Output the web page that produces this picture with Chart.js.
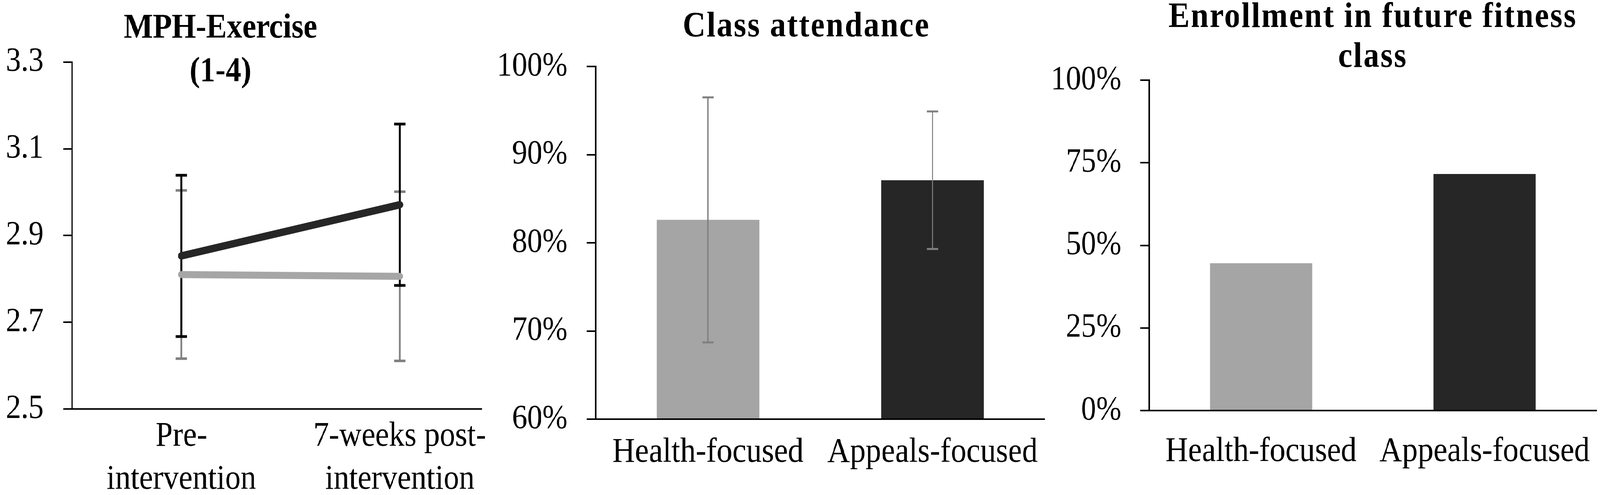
<!DOCTYPE html>
<html>
<head>
<meta charset="utf-8">
<script src="https://cdn.jsdelivr.net/npm/chart.js@4.4.1/dist/chart.umd.min.js"></script>
<style>
  html, body { margin: 0; padding: 0; background: #fff; overflow: hidden; }
  #stage { position: absolute; left: 0; top: 0; width: 4550px; height: 1266px; transform-origin: 0 0; overflow: hidden; }
  canvas { position: absolute; }
</style>
</head>
<body>
<div id="stage">
  <canvas id="mphChart"></canvas>
  <canvas id="attendChart"></canvas>
  <canvas id="enrollChart"></canvas>
</div>
<script>
// ====== Data ======
const groupLabels = ['Health-focused', 'Appeals-focused'];

// panel 1: MPH-Exercise, line chart with error bars
const mphTimeLabels = [['Pre-', 'intervention'], ['7-weeks post-', 'intervention']];
const mphHealth = [2.81, 2.806];
const mphHealthErr = [0.194, 0.195];
const mphAppeals = [2.853, 2.971];
const mphAppealsErr = [0.186, 0.186];
const mphTicks = [2.5, 2.7, 2.9, 3.1, 3.3];

// panel 2: class attendance (%)
const attendance = [82.6, 87.1];
const attendanceErr = [13.9, 7.8];
const attendTicks = [60, 70, 80, 90, 100];

// panel 3: enrollment in future class (%)
const enrollment = [44.6, 71.6];
const enrollTicks = [0, 25, 50, 75, 100];

// ====== Styles ======
const SERIF = '"Liberation Serif", "Times New Roman", serif';
const GRAY = '#a5a5a5';
const DARK = '#262626';
const ERR_GRAY = '#808080';

// the drawing is laid out on a 4550x1266 stage; stretch it onto the real viewport
const stage = document.getElementById('stage');
const vw = document.documentElement.clientWidth || window.innerWidth || 4550;
const vh = document.documentElement.clientHeight || window.innerHeight || 1266;
stage.style.transform = `scale(${vw / 4550}, ${vh / 1266})`;

// ====== Helpers ======
function place(id, left, top, w, h) {
  const c = document.getElementById(id);
  c.width = w; c.height = h;
  c.style.left = left + 'px'; c.style.top = top + 'px';
  c.style.width = w + 'px'; c.style.height = h + 'px';
  return c.getContext('2d');
}

function yAxis(tickValues, fmt, width, tickLen, pad) {
  return {
    min: tickValues[0],
    max: tickValues[tickValues.length - 1],
    afterBuildTicks: s => { s.ticks = tickValues.map(v => ({ value: v })); },
    afterFit: s => { s.width = width; },
    grid: { drawOnChartArea: false, drawTicks: true, tickLength: tickLen, color: '#000', lineWidth: 4, z: 1 },
    border: { color: '#000', width: 4, z: 1 },
    ticks: { color: '#000', padding: pad, font: { family: SERIF, size: 86 }, callback: fmt, z: 1 }
  };
}

function xAxis(height, pad, extra) {
  return Object.assign({
    afterFit: s => { s.height = height; },
    grid: { display: false, drawTicks: false },
    border: { color: '#000', width: 4, z: 1 },
    ticks: { color: '#000', padding: pad, maxRotation: 0, autoSkip: false, font: { family: SERIF, size: 89 }, z: 1 }
  }, extra);
}

function titleOpts(text, size, lineHeight, padding, fullSize) {
  return {
    display: true, text, color: '#000', padding, fullSize,
    font: { family: SERIF, size, weight: 'bold', lineHeight }
  };
}

// canvas letter spacing only while the title layer is drawn
function titleSpacing(px) {
  return {
    id: 'titleSpacing',
    beforeDraw(chart) { chart.ctx.letterSpacing = px; },
    beforeDatasetsDraw(chart) { chart.ctx.letterSpacing = '0px'; }
  };
}

function errorBars(hook, specs) {
  return {
    id: 'errorBars',
    [hook](chart) {
      const ctx = chart.ctx;
      const y = chart.scales.y;
      specs.forEach(spec => {
        const meta = chart.getDatasetMeta(spec.dataset);
        const values = chart.data.datasets[spec.dataset].data;
        ctx.save();
        ctx.strokeStyle = spec.color;
        meta.data.forEach((el, i) => {
          const v = typeof values[i] === 'object' ? values[i].y : values[i];
          const top = y.getPixelForValue(v + spec.err[i]);
          const bot = y.getPixelForValue(v - spec.err[i]);
          ctx.lineWidth = spec.width;
          ctx.beginPath();
          ctx.moveTo(el.x, top); ctx.lineTo(el.x, bot);
          ctx.stroke();
          ctx.lineWidth = spec.capWidth;
          ctx.beginPath();
          ctx.moveTo(el.x - spec.cap / 2, top); ctx.lineTo(el.x + spec.cap / 2, top);
          ctx.moveTo(el.x - spec.cap / 2, bot); ctx.lineTo(el.x + spec.cap / 2, bot);
          ctx.stroke();
        });
        ctx.restore();
      });
    }
  };
}

const common = {
  responsive: false,
  animation: false,
  devicePixelRatio: 1,
  events: []
};

// ====== Panel 1: MPH-Exercise ======
new Chart(place('mphChart', -116, 0, 1536, 1266), {
  type: 'line',
  data: {
    datasets: [
      {
        label: groupLabels[1],
        data: mphAppeals.map((v, i) => ({ x: i, y: v })),
        borderColor: DARK, borderWidth: 19, borderCapStyle: 'round',
        pointRadius: 0, tension: 0
      },
      {
        label: groupLabels[0],
        data: mphHealth.map((v, i) => ({ x: i, y: v })),
        borderColor: '#a6a6a6', borderWidth: 18, borderCapStyle: 'round',
        pointRadius: 0, tension: 0
      }
    ]
  },
  options: {
    ...common,
    layout: { padding: { left: 0, right: 50, top: 0, bottom: 0 } },
    plugins: {
      legend: { display: false },
      tooltip: { enabled: false },
      title: titleOpts(['MPH-Exercise', '(1-4)'], 88, 1.26, { top: 18, bottom: -81 }, true)
    },
    scales: {
      x: xAxis(220, 15, {
        type: 'linear', min: -0.5, max: 1.375,
        afterBuildTicks: s => { s.ticks = mphTimeLabels.map((_, i) => ({ value: i })); },
        ticks: {
          color: '#000', padding: 15, maxRotation: 0, autoSkip: false, z: 1,
          font: { family: SERIF, size: 88, lineHeight: 1.26 },
          callback: v => mphTimeLabels[v]
        }
      }),
      y: yAxis(mphTicks, v => v.toFixed(1), 321, 25, 56)
    }
  },
  plugins: [errorBars('beforeDatasetsDraw', [
    { dataset: 1, err: mphHealthErr, color: ERR_GRAY, width: 5.5, capWidth: 6.5, cap: 32 },
    { dataset: 0, err: mphAppealsErr, color: '#000', width: 6, capWidth: 7, cap: 32 }
  ])]
});

// ====== Panel 2: Class attendance ======
new Chart(place('attendChart', 1400, 0, 1786, 1266), {
  type: 'bar',
  data: {
    labels: groupLabels,
    datasets: [{
      data: attendance,
      backgroundColor: [GRAY, DARK],
      borderWidth: 0,
      barPercentage: 0.457,
      categoryPercentage: 1
    }]
  },
  options: {
    ...common,
    layout: { padding: 0 },
    plugins: {
      legend: { display: false },
      tooltip: { enabled: false },
      title: titleOpts('Class attendance', 90, 1.2, { top: 16, bottom: 46 }, true)
    },
    scales: {
      x: xAxis(194, 32, { type: 'category', offset: true }),
      y: yAxis(attendTicks, v => v + '%', 294, 26, 54),
      // empty box on the right so the title sits where the original has it
      ySpacer: {
        position: 'right', display: true,
        grid: { display: false, drawTicks: false },
        border: { display: false },
        ticks: { display: false },
        afterFit: s => { s.width = 215; }
      }
    }
  },
  plugins: [
    titleSpacing('3.5px'),
    errorBars('afterDatasetsDraw', [
      { dataset: 0, err: attendanceErr, color: ERR_GRAY, width: 3.5, capWidth: 5, cap: 32 }
    ])
  ]
});

// ====== Panel 3: Enrollment in future fitness class ======
new Chart(place('enrollChart', 2980, -20, 1620, 1286), {
  type: 'bar',
  data: {
    labels: groupLabels,
    datasets: [{
      data: enrollment,
      backgroundColor: [GRAY, DARK],
      borderWidth: 0,
      barPercentage: 0.457,
      categoryPercentage: 1
    }]
  },
  options: {
    ...common,
    layout: { padding: { left: 0, right: 60, top: 0, bottom: 0 } },
    plugins: {
      legend: { display: false },
      tooltip: { enabled: false },
      title: titleOpts(['Enrollment in future fitness', 'class'], 90, 1.14, { top: 14, bottom: 6 }, false)
    },
    scales: {
      x: xAxis(216, 52, { type: 'category', offset: true }),
      y: yAxis(enrollTicks, v => v + '%', 288, 25, 54)
    }
  },
  plugins: [titleSpacing('3.5px')]
});
</script>
</body>
</html>
